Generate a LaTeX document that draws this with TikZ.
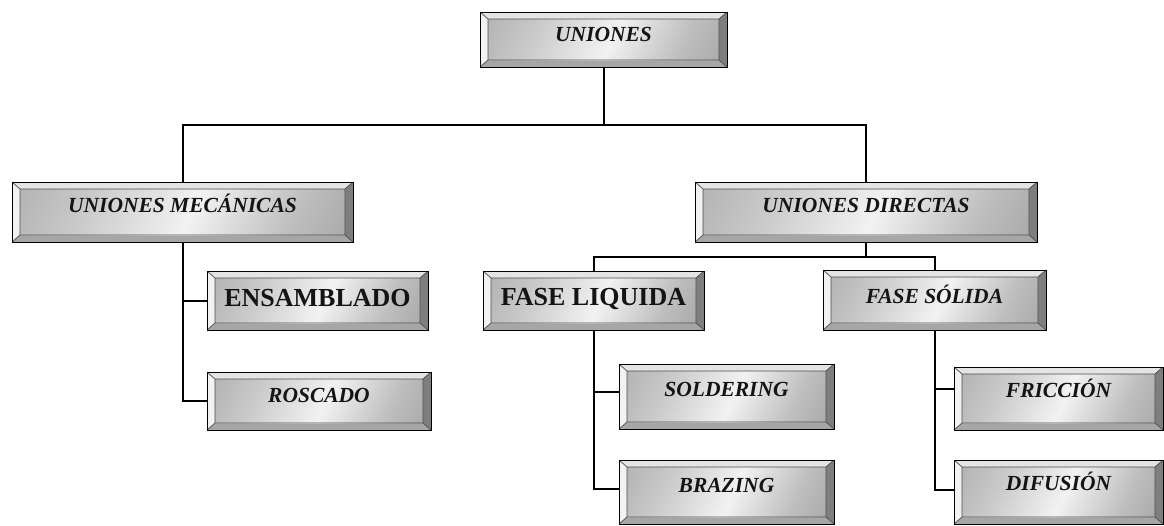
\documentclass[tikz,border=0pt]{standalone}
\usepackage{fontspec}
\setmainfont{Liberation Serif}
\usetikzlibrary{calc}
\definecolor{txt}{HTML}{141414}
\definecolor{bvtop}{HTML}{E4E4E4}
\definecolor{bvleft}{HTML}{F2F2F2}
\definecolor{bvright}{HTML}{7E7E7E}
\definecolor{bvbot}{HTML}{A6A6A6}
\definecolor{fA}{HTML}{9A9A9A}
\definecolor{fB}{HTML}{C8C8C8}
\definecolor{fC}{HTML}{F2F2F2}
\definecolor{fD}{HTML}{BEBEBE}
\definecolor{fE}{HTML}{8E8E8E}
\pgfdeclarehorizontalshading{bevface}{100bp}{color(0bp)=(fA); color(30bp)=(fB); color(52bp)=(fC); color(72bp)=(fD); color(100bp)=(fE)}
\tikzset{
  bevbox/.style={draw=black, line width=1pt, inner sep=0pt, text=txt,
    path picture={
      \coordinate (bvA) at (path picture bounding box.north west);
      \coordinate (bvB) at (path picture bounding box.north east);
      \coordinate (bvC) at (path picture bounding box.south east);
      \coordinate (bvD) at (path picture bounding box.south west);
      \coordinate (bvAi) at ([shift={(8pt,-7pt)}]bvA);
      \coordinate (bvBi) at ([shift={(-8pt,-7pt)}]bvB);
      \coordinate (bvCi) at ([shift={(-8pt,7pt)}]bvC);
      \coordinate (bvDi) at ([shift={(8pt,7pt)}]bvD);
      \fill[bvtop] (bvA)--(bvB)--(bvBi)--(bvAi)--cycle;
      \fill[bvright] (bvB)--(bvC)--(bvCi)--(bvBi)--cycle;
      \fill[bvbot] (bvC)--(bvD)--(bvDi)--(bvCi)--cycle;
      \fill[bvleft] (bvD)--(bvA)--(bvAi)--(bvDi)--cycle;
      \shade[shading=bevface, shading angle=-25] (bvAi) rectangle (bvCi);
      \draw[black!70, line width=0.7pt] (bvAi) rectangle (bvCi)
        (bvA)--(bvAi) (bvB)--(bvBi) (bvC)--(bvCi) (bvD)--(bvDi);
    }},
  itl/.style={font=\fontsize{21.5pt}{25pt}\selectfont\bfseries\itshape, text height=16pt},
  upr/.style={font=\fontsize{26pt}{30pt}\selectfont\bfseries, text height=18pt},
  rs/.style={text depth=#1},
  conn/.style={draw=black, line width=2pt}
}
\begin{document}
\begin{tikzpicture}[x=1pt,y=-1pt]
\useasboundingbox (0,0) rectangle (1164,525);
\fill[white] (0,0) rectangle (1164,525);

\node[bevbox, itl, rs=11.5pt, minimum width=247pt, minimum height=55pt] (uniones) at (603.5,39.5) {UNIONES};
\node[bevbox, itl, rs=15.5pt, minimum width=341pt, minimum height=60pt] (mec) at (182.5,212) {UNIONES MECÁNICAS};
\node[bevbox, itl, rs=15.5pt, minimum width=342pt, minimum height=60pt] (dir) at (866,212) {UNIONES DIRECTAS};
\node[bevbox, upr, rs=5.5pt, minimum width=221pt, minimum height=59pt] (ens) at (317.5,300.5) {ENSAMBLADO};
\node[bevbox, itl, rs=13.5pt, minimum width=224pt, minimum height=58pt] (ros) at (319,401) {ROSCADO};
\node[bevbox, upr, rs=8.5pt, minimum width=221pt, minimum height=59pt] (liq) at (593.5,300.5) {FASE LIQUIDA};
\node[bevbox, itl, rs=9.5pt, minimum width=223pt, minimum height=60pt] (sol) at (934.5,300) {FASE SÓLIDA};
\node[bevbox, itl, rs=15.5pt, minimum width=215pt, minimum height=65pt] (sold) at (726.5,396.5) {SOLDERING};
\node[bevbox, itl, rs=15.5pt, minimum width=215pt, minimum height=64pt] (braz) at (726.5,492) {BRAZING};
\node[bevbox, itl, rs=18.5pt, minimum width=209pt, minimum height=63pt] (fric) at (1058.5,398.5) {FRICCIÓN};
\node[bevbox, itl, rs=18.5pt, minimum width=209pt, minimum height=64pt] (dif) at (1058.5,492) {DIFUSIÓN};

\coordinate (j1) at (603.5,125);
\coordinate (j2) at (866,257);
\draw[conn] (uniones.south) -- (j1);
\draw[conn] (j1) -| (mec.north);
\draw[conn] (j1) -| (dir.north);
\draw[conn] (mec.south) |- (ens.west);
\draw[conn] (mec.south) |- (ros.west);
\draw[conn] (dir.south) -- (j2);
\draw[conn] (j2) -| (liq.north);
\draw[conn] (j2) -| (sol.north);
\draw[conn] (liq.south) |- ([yshift=5pt]sold.west);
\draw[conn] (liq.south) |- ([yshift=3pt]braz.west);
\draw[conn] (sol.south) |- ([yshift=10pt]fric.west);
\draw[conn] (sol.south) |- ([yshift=2pt]dif.west);
\end{tikzpicture}
\end{document}
